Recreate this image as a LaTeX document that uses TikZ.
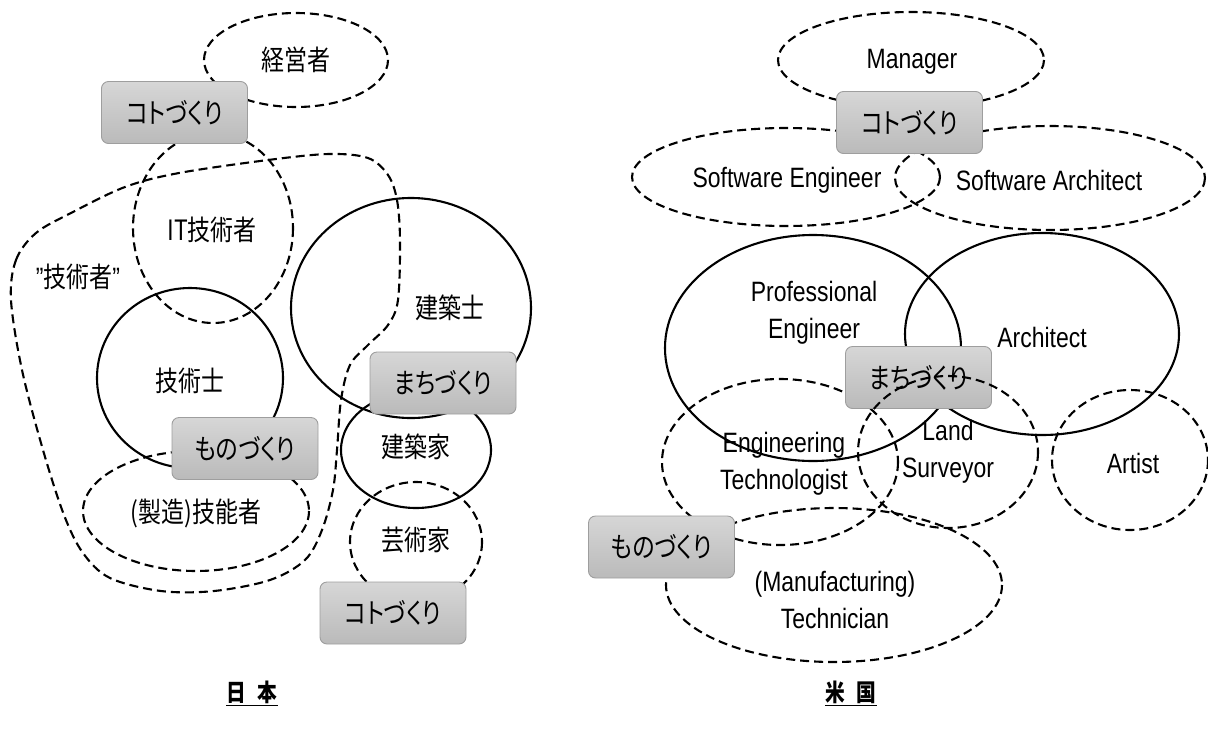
\documentclass[tikz,border=0pt]{standalone}
\usepackage{fontspec}
\setmainfont{Liberation Sans}[FakeStretch=0.82]
\newfontfamily\jp{Noto Sans CJK JP}[FakeStretch=0.82,RawFeature={+palt}]
\usetikzlibrary{shapes.geometric}
\tikzset{
  dsh/.style={line width=2.1pt, dash pattern=on 9pt off 5pt},
  sld/.style={line width=2.1pt},
  lbl/.style={font=\fontsize{28}{37}\selectfont, align=center, inner sep=0pt},
  jlbl/.style={font=\jp\fontsize{28}{37}\selectfont, align=center, inner sep=0pt},
  gbox/.style={draw=black!38, line width=0.9pt, rounded corners=7pt,
    top color=black!16, bottom color=black!27,
    minimum width=146pt, minimum height=62pt, inner sep=0pt,
    font=\jp\fontsize{28}{33}\selectfont},
  ttl/.style={font=\jp\bfseries\fontsize{24}{28}\selectfont, inner sep=0pt}
}
\begin{document}
\begin{tikzpicture}[x=1pt,y=-1pt]
\useasboundingbox (0,0) rectangle (1208,729);
% ---------------- Japan (left) ----------------
\draw[dsh] (296,60) ellipse [x radius=92, y radius=47];
\draw[dsh] (213,228) ellipse [x radius=80, y radius=95];
\draw[dsh] plot[smooth cycle, tension=0.55] coordinates {
  (11,300) (16,260) (36,233) (71,213) (125,187) (179,173) (268,160)
  (329,154) (368,158) (388,175) (397,200) (400,240) (398,300)
  (388,325) (368,345) (350,365) (341,400) (337,450) (333,490)
  (322,530) (305,560) (270,580) (214,591) (161,591) (110,578)
  (83,553) (64,515) (43,450) (22,370)};
\draw[sld] (190,378) ellipse [x radius=93, y radius=90];
\draw[sld] (411,308) ellipse [x radius=120, y radius=110];
\draw[sld] (416,450) ellipse [x radius=75, y radius=58];
\draw[dsh] (196,511) ellipse [x radius=113, y radius=60];
\draw[dsh] (416,542) ellipse [x radius=66, y radius=60];

\node[jlbl] (keiei) at (296,60) {経営者};
\node[jlbl] (itg) at (212,230) {IT技術者};
\node[jlbl] (gijutsusha) at (78,277) {{\fontspec{Liberation Sans}[FakeStretch=0.82]”}技術者{\fontspec{Liberation Sans}[FakeStretch=0.82]”}};
\node[jlbl] (gijutsushi) at (190,381) {技術士};
\node[jlbl] (kenchikushi) at (450,308) {建築士};
\node[jlbl] (kenchikuka) at (416,447) {建築家};
\node[jlbl] (ginousha) at (196,513) {(製造)技能者};
\node[jlbl] (geijutsuka) at (416,540) {芸術家};

\node[gbox] (kotoA) at (174.5,112.5) {コトづくり};
\node[gbox] (machiA) at (443,383) {まちづくり};
\node[gbox] (monoA) at (245,448.5) {ものづくり};
\node[gbox] (kotoB) at (393,613) {コトづくり};

\node[ttl] (japan) at (252,693) {\underline{日\hspace{12pt}本}};

% ---------------- USA (right) ----------------
\draw[dsh] (911,60) ellipse [x radius=133, y radius=48];
\draw[dsh] (786,177) ellipse [x radius=154, y radius=49];
\draw[dsh] (1050,178) ellipse [x radius=155, y radius=52];
\draw[sld] (813,348) ellipse [x radius=148, y radius=113];
\draw[sld] (1042,334) ellipse [x radius=137, y radius=101];
\draw[dsh] (780,462) ellipse [x radius=118, y radius=83];
\draw[dsh] (1130,460) ellipse [x radius=78, y radius=70];
\draw[dsh] (834,585) ellipse [x radius=168, y radius=77];

\node[lbl] (manager) at (912,62) {Manager};
\node[lbl] (swe) at (787,180) {Software Engineer};
\node[lbl] (swa) at (1049,180) {Software Architect};
\node[lbl] (pe) at (814,313) {Professional\\Engineer};
\node[lbl] (arch) at (1042,337) {Architect};
\node[lbl] (et) at (784,464) {Engineering\\Technologist};
\node[lbl] (ls) at (948,452) {Land\\Surveyor};
\node[lbl] (artist) at (1133,463) {Artist};
\node[lbl] (mt) at (835,600) {(Manufacturing)\\Technician};

\node[gbox] (kotoC) at (909.5,122.5) {コトづくり};
\node[gbox] (machiB) at (918.5,377.5) {まちづくり};
\node[gbox] (monoB) at (661.5,547) {ものづくり};

\draw[dsh] (948,452) ellipse [x radius=90, y radius=76];

\node[ttl] (usa) at (851,693) {\underline{米\hspace{12pt}国}};
\end{tikzpicture}
\end{document}
